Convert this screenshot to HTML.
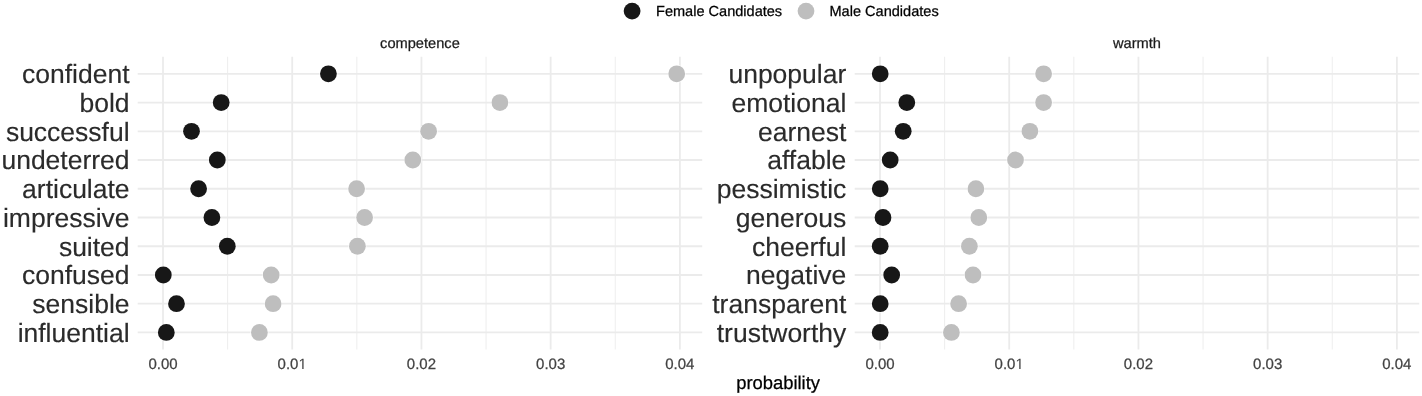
<!DOCTYPE html>
<html><head><meta charset="utf-8"><style>
html,body{margin:0;padding:0;background:#fff;width:1422px;height:396px;overflow:hidden;}
svg{display:block;will-change:transform;}
text{font-family:"Liberation Sans",sans-serif;text-rendering:geometricPrecision;}
</style></head><body>
<svg width="1422" height="396" viewBox="0 0 1422 396">
<rect width="1422" height="396" fill="#fff"/>
<line x1="227.61" y1="56.8" x2="227.61" y2="349.4" stroke="#efefef" stroke-width="1.1"/>
<line x1="356.83" y1="56.8" x2="356.83" y2="349.4" stroke="#efefef" stroke-width="1.1"/>
<line x1="486.05" y1="56.8" x2="486.05" y2="349.4" stroke="#efefef" stroke-width="1.1"/>
<line x1="615.27" y1="56.8" x2="615.27" y2="349.4" stroke="#efefef" stroke-width="1.1"/>
<line x1="163.00" y1="56.8" x2="163.00" y2="349.4" stroke="#ebebeb" stroke-width="1.8"/>
<line x1="292.22" y1="56.8" x2="292.22" y2="349.4" stroke="#ebebeb" stroke-width="1.8"/>
<line x1="421.44" y1="56.8" x2="421.44" y2="349.4" stroke="#ebebeb" stroke-width="1.8"/>
<line x1="550.66" y1="56.8" x2="550.66" y2="349.4" stroke="#ebebeb" stroke-width="1.8"/>
<line x1="679.88" y1="56.8" x2="679.88" y2="349.4" stroke="#ebebeb" stroke-width="1.8"/>
<line x1="137.70" y1="73.80" x2="702.20" y2="73.80" stroke="#ebebeb" stroke-width="1.8"/>
<line x1="137.70" y1="102.54" x2="702.20" y2="102.54" stroke="#ebebeb" stroke-width="1.8"/>
<line x1="137.70" y1="131.28" x2="702.20" y2="131.28" stroke="#ebebeb" stroke-width="1.8"/>
<line x1="137.70" y1="160.02" x2="702.20" y2="160.02" stroke="#ebebeb" stroke-width="1.8"/>
<line x1="137.70" y1="188.76" x2="702.20" y2="188.76" stroke="#ebebeb" stroke-width="1.8"/>
<line x1="137.70" y1="217.50" x2="702.20" y2="217.50" stroke="#ebebeb" stroke-width="1.8"/>
<line x1="137.70" y1="246.24" x2="702.20" y2="246.24" stroke="#ebebeb" stroke-width="1.8"/>
<line x1="137.70" y1="274.98" x2="702.20" y2="274.98" stroke="#ebebeb" stroke-width="1.8"/>
<line x1="137.70" y1="303.72" x2="702.20" y2="303.72" stroke="#ebebeb" stroke-width="1.8"/>
<line x1="137.70" y1="332.46" x2="702.20" y2="332.46" stroke="#ebebeb" stroke-width="1.8"/>
<line x1="944.61" y1="56.8" x2="944.61" y2="349.4" stroke="#efefef" stroke-width="1.1"/>
<line x1="1073.83" y1="56.8" x2="1073.83" y2="349.4" stroke="#efefef" stroke-width="1.1"/>
<line x1="1203.05" y1="56.8" x2="1203.05" y2="349.4" stroke="#efefef" stroke-width="1.1"/>
<line x1="1332.27" y1="56.8" x2="1332.27" y2="349.4" stroke="#efefef" stroke-width="1.1"/>
<line x1="880.00" y1="56.8" x2="880.00" y2="349.4" stroke="#ebebeb" stroke-width="1.8"/>
<line x1="1009.22" y1="56.8" x2="1009.22" y2="349.4" stroke="#ebebeb" stroke-width="1.8"/>
<line x1="1138.44" y1="56.8" x2="1138.44" y2="349.4" stroke="#ebebeb" stroke-width="1.8"/>
<line x1="1267.66" y1="56.8" x2="1267.66" y2="349.4" stroke="#ebebeb" stroke-width="1.8"/>
<line x1="1396.88" y1="56.8" x2="1396.88" y2="349.4" stroke="#ebebeb" stroke-width="1.8"/>
<line x1="854.70" y1="73.80" x2="1419.20" y2="73.80" stroke="#ebebeb" stroke-width="1.8"/>
<line x1="854.70" y1="102.54" x2="1419.20" y2="102.54" stroke="#ebebeb" stroke-width="1.8"/>
<line x1="854.70" y1="131.28" x2="1419.20" y2="131.28" stroke="#ebebeb" stroke-width="1.8"/>
<line x1="854.70" y1="160.02" x2="1419.20" y2="160.02" stroke="#ebebeb" stroke-width="1.8"/>
<line x1="854.70" y1="188.76" x2="1419.20" y2="188.76" stroke="#ebebeb" stroke-width="1.8"/>
<line x1="854.70" y1="217.50" x2="1419.20" y2="217.50" stroke="#ebebeb" stroke-width="1.8"/>
<line x1="854.70" y1="246.24" x2="1419.20" y2="246.24" stroke="#ebebeb" stroke-width="1.8"/>
<line x1="854.70" y1="274.98" x2="1419.20" y2="274.98" stroke="#ebebeb" stroke-width="1.8"/>
<line x1="854.70" y1="303.72" x2="1419.20" y2="303.72" stroke="#ebebeb" stroke-width="1.8"/>
<line x1="854.70" y1="332.46" x2="1419.20" y2="332.46" stroke="#ebebeb" stroke-width="1.8"/>
<circle cx="676.70" cy="73.80" r="8.95" fill="#fff"/><circle cx="676.70" cy="73.80" r="8.4" fill="#bebebe"/>
<circle cx="499.90" cy="102.54" r="8.95" fill="#fff"/><circle cx="499.90" cy="102.54" r="8.4" fill="#bebebe"/>
<circle cx="428.60" cy="131.28" r="8.95" fill="#fff"/><circle cx="428.60" cy="131.28" r="8.4" fill="#bebebe"/>
<circle cx="412.80" cy="160.02" r="8.95" fill="#fff"/><circle cx="412.80" cy="160.02" r="8.4" fill="#bebebe"/>
<circle cx="356.60" cy="188.76" r="8.95" fill="#fff"/><circle cx="356.60" cy="188.76" r="8.4" fill="#bebebe"/>
<circle cx="364.60" cy="217.50" r="8.95" fill="#fff"/><circle cx="364.60" cy="217.50" r="8.4" fill="#bebebe"/>
<circle cx="357.40" cy="246.24" r="8.95" fill="#fff"/><circle cx="357.40" cy="246.24" r="8.4" fill="#bebebe"/>
<circle cx="271.20" cy="274.98" r="8.95" fill="#fff"/><circle cx="271.20" cy="274.98" r="8.4" fill="#bebebe"/>
<circle cx="273.10" cy="303.72" r="8.95" fill="#fff"/><circle cx="273.10" cy="303.72" r="8.4" fill="#bebebe"/>
<circle cx="259.40" cy="332.46" r="8.95" fill="#fff"/><circle cx="259.40" cy="332.46" r="8.4" fill="#bebebe"/>
<circle cx="1043.60" cy="73.80" r="8.95" fill="#fff"/><circle cx="1043.60" cy="73.80" r="8.4" fill="#bebebe"/>
<circle cx="1043.60" cy="102.54" r="8.95" fill="#fff"/><circle cx="1043.60" cy="102.54" r="8.4" fill="#bebebe"/>
<circle cx="1029.90" cy="131.28" r="8.95" fill="#fff"/><circle cx="1029.90" cy="131.28" r="8.4" fill="#bebebe"/>
<circle cx="1015.50" cy="160.02" r="8.95" fill="#fff"/><circle cx="1015.50" cy="160.02" r="8.4" fill="#bebebe"/>
<circle cx="975.90" cy="188.76" r="8.95" fill="#fff"/><circle cx="975.90" cy="188.76" r="8.4" fill="#bebebe"/>
<circle cx="978.80" cy="217.50" r="8.95" fill="#fff"/><circle cx="978.80" cy="217.50" r="8.4" fill="#bebebe"/>
<circle cx="969.40" cy="246.24" r="8.95" fill="#fff"/><circle cx="969.40" cy="246.24" r="8.4" fill="#bebebe"/>
<circle cx="973.00" cy="274.98" r="8.95" fill="#fff"/><circle cx="973.00" cy="274.98" r="8.4" fill="#bebebe"/>
<circle cx="958.60" cy="303.72" r="8.95" fill="#fff"/><circle cx="958.60" cy="303.72" r="8.4" fill="#bebebe"/>
<circle cx="951.40" cy="332.46" r="8.95" fill="#fff"/><circle cx="951.40" cy="332.46" r="8.4" fill="#bebebe"/>
<circle cx="328.40" cy="73.80" r="8.95" fill="#fff"/><circle cx="328.40" cy="73.80" r="8.4" fill="#171717"/>
<circle cx="221.20" cy="102.54" r="8.95" fill="#fff"/><circle cx="221.20" cy="102.54" r="8.4" fill="#171717"/>
<circle cx="191.50" cy="131.28" r="8.95" fill="#fff"/><circle cx="191.50" cy="131.28" r="8.4" fill="#171717"/>
<circle cx="217.30" cy="160.02" r="8.95" fill="#fff"/><circle cx="217.30" cy="160.02" r="8.4" fill="#171717"/>
<circle cx="198.60" cy="188.76" r="8.95" fill="#fff"/><circle cx="198.60" cy="188.76" r="8.4" fill="#171717"/>
<circle cx="211.90" cy="217.50" r="8.95" fill="#fff"/><circle cx="211.90" cy="217.50" r="8.4" fill="#171717"/>
<circle cx="227.30" cy="246.24" r="8.95" fill="#fff"/><circle cx="227.30" cy="246.24" r="8.4" fill="#171717"/>
<circle cx="163.30" cy="274.98" r="8.95" fill="#fff"/><circle cx="163.30" cy="274.98" r="8.4" fill="#171717"/>
<circle cx="176.50" cy="303.72" r="8.95" fill="#fff"/><circle cx="176.50" cy="303.72" r="8.4" fill="#171717"/>
<circle cx="166.30" cy="332.46" r="8.95" fill="#fff"/><circle cx="166.30" cy="332.46" r="8.4" fill="#171717"/>
<circle cx="880.20" cy="73.80" r="8.95" fill="#fff"/><circle cx="880.20" cy="73.80" r="8.4" fill="#171717"/>
<circle cx="906.80" cy="102.54" r="8.95" fill="#fff"/><circle cx="906.80" cy="102.54" r="8.4" fill="#171717"/>
<circle cx="903.20" cy="131.28" r="8.95" fill="#fff"/><circle cx="903.20" cy="131.28" r="8.4" fill="#171717"/>
<circle cx="890.20" cy="160.02" r="8.95" fill="#fff"/><circle cx="890.20" cy="160.02" r="8.4" fill="#171717"/>
<circle cx="880.20" cy="188.76" r="8.95" fill="#fff"/><circle cx="880.20" cy="188.76" r="8.4" fill="#171717"/>
<circle cx="883.00" cy="217.50" r="8.95" fill="#fff"/><circle cx="883.00" cy="217.50" r="8.4" fill="#171717"/>
<circle cx="880.20" cy="246.24" r="8.95" fill="#fff"/><circle cx="880.20" cy="246.24" r="8.4" fill="#171717"/>
<circle cx="891.70" cy="274.98" r="8.95" fill="#fff"/><circle cx="891.70" cy="274.98" r="8.4" fill="#171717"/>
<circle cx="880.20" cy="303.72" r="8.95" fill="#fff"/><circle cx="880.20" cy="303.72" r="8.4" fill="#171717"/>
<circle cx="880.20" cy="332.46" r="8.95" fill="#fff"/><circle cx="880.20" cy="332.46" r="8.4" fill="#171717"/>
<g font-family="Liberation Sans, sans-serif" font-size="26.5" fill="#2b2b2b" stroke="#2b2b2b" stroke-width="0.15" text-anchor="end">
<text x="129.6" y="83.20">confident</text>
<text x="129.6" y="111.94">bold</text>
<text x="129.6" y="140.68">successful</text>
<text x="129.6" y="169.42">undeterred</text>
<text x="129.6" y="198.16">articulate</text>
<text x="129.6" y="226.90">impressive</text>
<text x="129.6" y="255.64">suited</text>
<text x="129.6" y="284.38">confused</text>
<text x="129.6" y="313.12">sensible</text>
<text x="129.6" y="341.86">influential</text>
<text x="846.3" y="83.20">unpopular</text>
<text x="846.3" y="111.94">emotional</text>
<text x="846.3" y="140.68">earnest</text>
<text x="846.3" y="169.42">affable</text>
<text x="846.3" y="198.16">pessimistic</text>
<text x="846.3" y="226.90">generous</text>
<text x="846.3" y="255.64">cheerful</text>
<text x="846.3" y="284.38">negative</text>
<text x="846.3" y="313.12">transparent</text>
<text x="846.3" y="341.86">trustworthy</text>
</g>
<g font-family="Liberation Sans, sans-serif" font-size="15" fill="#424242" stroke="#424242" stroke-width="0.25" text-anchor="middle">
<text x="163.00" y="369.1">0.00</text>
<text x="277.62" y="369.1" text-anchor="start">0.0</text>
<path transform="translate(298.475,369.1) scale(0.007324,-0.007324)" d="M515 0V1237L197 1010V1180L530 1409H696V0Z"/>
<text x="421.44" y="369.1">0.02</text>
<text x="550.66" y="369.1">0.03</text>
<text x="679.88" y="369.1">0.04</text>
<text x="880.00" y="369.1">0.00</text>
<text x="994.62" y="369.1" text-anchor="start">0.0</text>
<path transform="translate(1015.475,369.1) scale(0.007324,-0.007324)" d="M515 0V1237L197 1010V1180L530 1409H696V0Z"/>
<text x="1138.44" y="369.1">0.02</text>
<text x="1267.66" y="369.1">0.03</text>
<text x="1396.88" y="369.1">0.04</text>
</g>
<g font-family="Liberation Sans, sans-serif" font-size="14.65" fill="#1a1a1a" stroke="#1a1a1a" stroke-width="0.25" text-anchor="middle">
<text x="419.95" y="47.5">competence</text>
<text x="1136.95" y="47.5">warmth</text>
</g>
<text x="778.1" y="388.6" font-family="Liberation Sans, sans-serif" font-size="18.4" fill="#000" stroke="#000" stroke-width="0.25" text-anchor="middle">probability</text>
<circle cx="632.1" cy="11.1" r="8.4" fill="#171717"/>
<circle cx="806.0" cy="11.1" r="8.4" fill="#bebebe"/>
<g font-family="Liberation Sans, sans-serif" font-size="14.55" fill="#000" stroke="#000" stroke-width="0.25">
<text x="656.0" y="16.3">Female Candidates</text>
<text x="829.5" y="16.3">Male Candidates</text>
</g>
</svg>
</body></html>
